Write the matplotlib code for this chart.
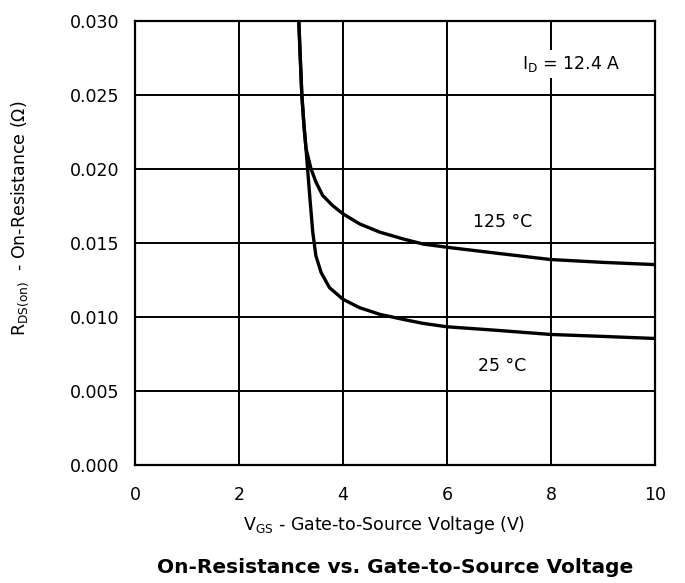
import matplotlib
matplotlib.use("Agg")
import matplotlib.pyplot as plt

plt.rcParams['font.family'] = ['DejaVu Sans']
plt.rcParams['mathtext.fontset'] = 'dejavusans'

# V_GS (V) vs R_DS(on) (ohm)
vgs_125 = [3.14, 3.18, 3.21, 3.25, 3.29, 3.385, 3.48, 3.61, 3.80, 4.00, 4.32, 4.71,
           5.16, 5.54, 6.00, 7.00, 8.00, 9.00, 10.00]
rds_125 = [0.0310, 0.0275, 0.0250, 0.0230, 0.02139, 0.02004, 0.01913, 0.01822, 0.01754,
           0.01698, 0.01630, 0.01574, 0.01528, 0.01494, 0.01472, 0.0143, 0.01389,
           0.0137, 0.01355]

vgs_25 = [3.14, 3.18, 3.21, 3.25, 3.29, 3.32, 3.366, 3.42, 3.48, 3.58, 3.74, 4.00,
          4.32, 4.71, 5.16, 5.54, 6.00, 7.00, 8.00, 9.00, 10.00]
rds_25 = [0.0310, 0.0275, 0.0250, 0.0230, 0.02139, 0.02004, 0.0180, 0.01574, 0.01415,
          0.01302, 0.0120, 0.01121, 0.01064, 0.01019, 0.00985, 0.00958, 0.00935,
          0.0091, 0.00883, 0.0087, 0.00856]

x_ticks = [0, 2, 4, 6, 8, 10]
y_ticks = [0.000, 0.005, 0.010, 0.015, 0.020, 0.025, 0.030]

fig = plt.figure(figsize=(6.85, 5.83), dpi=100)
ax = fig.add_axes([0.197, 0.202, 0.759, 0.762])

for v, r in [(vgs_125, rds_125), (vgs_25, rds_25)]:
    ax.plot(v, r, color='black', linewidth=2.4, solid_joinstyle='round',
            solid_capstyle='butt')

ax.set_xlim(0, 10)
ax.set_ylim(0, 0.030)
ax.set_xticks(x_ticks)
ax.set_yticks(y_ticks)
ax.set_yticklabels([f'{v:.3f}' for v in y_ticks])
ax.grid(True, color='black', linewidth=1.4)
ax.tick_params(length=0, labelsize=12.5)
ax.tick_params(axis='x', pad=15)
ax.tick_params(axis='y', pad=11)
for s in ax.spines.values():
    s.set_linewidth(1.6)

bbox = dict(facecolor='white', edgecolor='none', pad=3)
ax.text(8.40, 0.0271, r'I$_\mathregular{D}$ = 12.4 A', fontsize=12.5,
        ha='center', va='center', bbox=bbox)
ax.text(7.08, 0.01642, '125 °C', fontsize=12.5, ha='center', va='center')
ax.text(7.07, 0.00672, '25 °C', fontsize=12.5, ha='center', va='center')

ax.set_xlabel(r'V$_\mathregular{GS}$ - Gate-to-Source Voltage (V)', fontsize=12.5)
ax.xaxis.set_label_coords(0.48, -0.11)
ax.set_ylabel(r'R$_\mathregular{DS(on)}$  - On-Resistance ($\Omega$)', fontsize=12.5)
ax.yaxis.set_label_coords(-0.20, 0.557)
fig.text(0.577, 0.027, 'On-Resistance vs. Gate-to-Source Voltage', fontsize=14.5,
         fontweight='bold', ha='center', va='center')

plt.savefig('out.png', dpi=100)
plt.close()
